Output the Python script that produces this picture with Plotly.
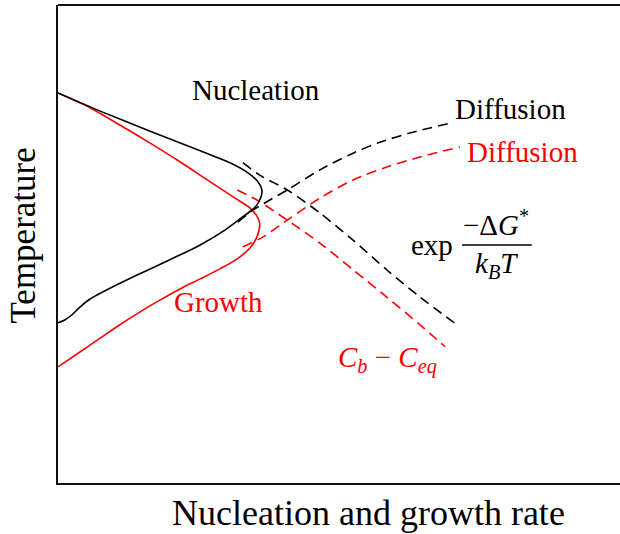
import plotly.graph_objects as go

# ---- data (arbitrary units: rate 0-100, temperature 0-100) ----
nuc_rate = [0, 7.5, 16.4, 25.3, 30.6, 33.8, 35.6, 36.3, 35.9, 34.9, 32.9, 29.7, 25.3, 19.9,
            13.7, 8.0, 5.7, 3.9, 2.5, 1.2, 0]
nuc_temp = [81.6, 77.8, 73.6, 69.5, 67.0, 64.9, 63.0, 61.1, 59.2, 57.5, 55.7, 52.9, 49.8, 46.7,
            43.3, 40.0, 38.5, 36.8, 35.2, 34.1, 33.5]

nuc_diff_rate = [32.0, 34.7, 37.7, 40.8, 46.6, 52.5, 57.3, 62.6, 69.8]
nuc_diff_temp = [54.6, 57.1, 59.2, 61.3, 65.5, 69.0, 71.3, 73.2, 75.3]

nuc_exp_rate = [32.9, 35.9, 40.8, 46.6, 52.5, 58.5, 64.4, 71.0]
nuc_exp_temp = [67.0, 64.4, 61.3, 56.5, 50.8, 44.6, 38.9, 33.1]

gro_rate = [0, 5.7, 11.0, 16.4, 21.7, 27.1, 31.5, 34.2, 35.6, 35.9,
            35.4, 34.2, 31.9, 28.8, 25.3, 21.7, 18.2, 14.6, 11.0, 7.5, 3.9, 0]
gro_temp = [81.6, 78.5, 74.9, 71.1, 67.2, 63.0, 59.6, 57.5, 55.4, 54.0,
            51.5, 49.2, 46.9, 44.8, 42.7, 40.6, 38.3, 35.8, 33.1, 30.3, 27.4, 24.3]

gro_conc_rate = [31.9, 35.4, 40.8, 46.6, 52.5, 58.5, 64.4, 68.9]
gro_conc_temp = [61.3, 59.2, 55.0, 50.2, 44.6, 38.9, 33.1, 28.5]

gro_diff_rate = [32.9, 36.5, 40.8, 46.6, 52.5, 58.5, 64.4, 71.5]
gro_diff_temp = [49.4, 51.5, 55.0, 59.6, 63.4, 66.1, 68.2, 70.3]

RED = "#ff0000"
BLK = "#000000"
DASH = "10px,6px"
SERIF = "Liberation Serif"

fig = go.Figure()


def add(x, y, color, dash=None, smooth=0.8):
    fig.add_trace(go.Scatter(
        x=x, y=y, mode="lines", line_shape="spline",
        line=dict(color=color, width=1.6, dash=dash if dash else "solid", smoothing=smooth),
        showlegend=False, hoverinfo="skip"))


add(nuc_diff_rate, nuc_diff_temp, BLK, DASH)
add(nuc_exp_rate, nuc_exp_temp, BLK, DASH)
add(gro_conc_rate, gro_conc_temp, RED, DASH)
add(gro_diff_rate, gro_diff_temp, RED, DASH)
add(gro_rate, gro_temp, RED, smooth=0.7)
add(nuc_rate, nuc_temp, BLK, smooth=0.7)

ann = [
    dict(x=35.2, y=82.2, text="Nucleation", color=BLK),
    dict(x=80.6, y=78.2, text="Diffusion", color=BLK),
    dict(x=82.6, y=69.2, text="Diffusion", color=RED),
    dict(x=28.5, y=37.9, text="Growth", color=RED),
    dict(x=66.5, y=49.8, text="exp", color=BLK),
    dict(x=77.9, y=54.3, text="−Δ<i>G</i><sup>*</sup>", color=BLK),
    dict(x=78.1, y=45.6, text="<i>k</i><sub><i>B</i></sub><i>T</i>", color=BLK),
    dict(x=58.7, y=25.9, text="<i>C</i><sub><i>b</i></sub> − <i>C</i><sub><i>eq</i></sub>", color=RED),
]
for a in ann:
    fig.add_annotation(x=a["x"], y=a["y"], xref="x", yref="y", text=a["text"],
                       showarrow=False, xanchor="center", yanchor="middle",
                       font=dict(family=SERIF, size=29, color=a["color"]))

# fraction bar
fig.add_shape(type="line", xref="x", yref="y", x0=71.9, x1=84.3, y0=49.8, y1=49.8,
              line=dict(color=BLK, width=1.5))

# axis titles
fig.add_annotation(x=0.5525, y=-0.063, xref="paper", yref="paper",
                   text="Nucleation and growth rate", showarrow=False,
                   xanchor="center", yanchor="middle",
                   font=dict(family=SERIF, size=36, color=BLK))
fig.add_annotation(x=-0.061, y=0.517, xref="paper", yref="paper",
                   text="Temperature", showarrow=False, textangle=-90,
                   xanchor="center", yanchor="middle",
                   font=dict(family=SERIF, size=35, color=BLK))

# top frame line (right side is cropped in the reference)
fig.add_shape(type="line", xref="paper", yref="paper", x0=0, x1=1, y0=1, y1=1,
              line=dict(color="#111111", width=2))

fig.update_xaxes(range=[0, 100], showgrid=False, zeroline=False, showticklabels=False,
                 ticks="", showline=True, linecolor="#111111", linewidth=2)
fig.update_yaxes(range=[0, 100], showgrid=False, zeroline=False, showticklabels=False,
                 ticks="", showline=True, linecolor="#111111", linewidth=2)

fig.update_layout(width=620, height=534, margin=dict(l=58, r=0, t=5, b=51),
                  plot_bgcolor="white", paper_bgcolor="white",
                  font=dict(family=SERIF))

fig.write_html("out.html")
